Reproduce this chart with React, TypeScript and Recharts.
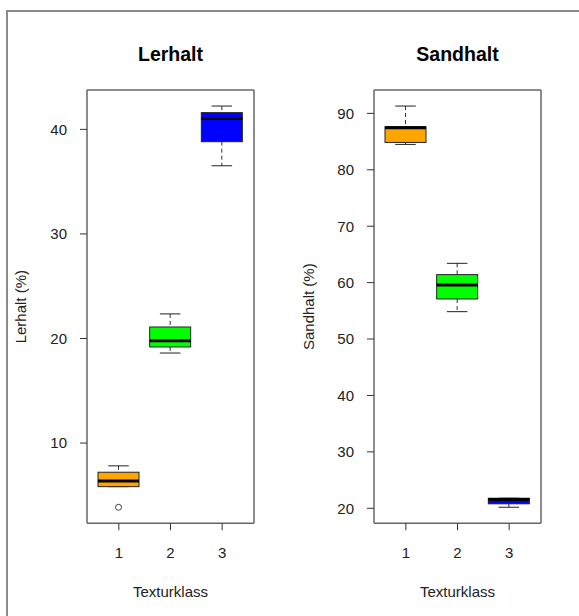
import { ComposedChart, Bar, Cell, XAxis, YAxis } from 'recharts';

// Texturklass categories
const categories = ['1', '2', '3'];

// Lerhalt (%) box statistics per class
const lerWhiskerLow = [5.83, 18.61, 36.52];
const lerQ1 = [5.83, 19.19, 38.82];
const lerMedian = [6.38, 19.79, 41.05];
const lerQ3 = [7.21, 21.1, 41.6];
const lerWhiskerHigh = [7.82, 22.35, 42.23];
const lerOutliers = [[3.86], [], []];

// Sandhalt (%) box statistics per class
const sandWhiskerLow = [84.5, 54.85, 20.18];
const sandQ1 = [84.85, 57.1, 20.79];
const sandMedian = [87.46, 59.59, 21.55];
const sandQ3 = [87.64, 61.42, 21.78];
const sandWhiskerHigh = [91.3, 63.42, 21.78];
const sandOutliers = [[], [], []];

const lerTicks = [10, 20, 30, 40];
const sandTicks = [20, 30, 40, 50, 60, 70, 80, 90];

const boxColors = ['#FFA500', '#00FF00', '#0000FF'];
const FONT = '"Liberation Sans", Arial, sans-serif';
const FRAME = { stroke: '#666', strokeWidth: 1.5 };

function buildRows(low: number[], q1: number[], med: number[], q3: number[], high: number[], out: number[][]) {
  return categories.map((k, i) => ({
    k,
    wLow: low[i],
    q1: q1[i],
    med: med[i],
    q3: q3[i],
    wHigh: high[i],
    out: out[i],
    lo: Math.min(low[i], ...out[i]),
    hi: Math.max(high[i], ...out[i]),
  }));
}

// R style: data range stretched by 4%
function paddedDomain(rows: { lo: number; hi: number }[]): [number, number] {
  const lo = Math.min(...rows.map((r) => r.lo));
  const hi = Math.max(...rows.map((r) => r.hi));
  const pad = (hi - lo) * 0.04;
  return [lo - pad, hi + pad];
}

function BoxShape(props: any) {
  const { x, y, width, height, payload, fill } = props;
  const top = Math.min(y, y + height);
  const h = Math.abs(height);
  const k = h / (payload.hi - payload.lo);
  const py = (v: number) => top + (payload.hi - v) * k;
  const cx = x + width / 2;
  const cap = width / 4;
  return (
    <g>
      <line x1={cx} x2={cx} y1={py(payload.wHigh)} y2={py(payload.q3)} stroke="#333" strokeDasharray="4 3" />
      <line x1={cx} x2={cx} y1={py(payload.q1)} y2={py(payload.wLow)} stroke="#333" strokeDasharray="4 3" />
      <line x1={cx - cap} x2={cx + cap} y1={py(payload.wHigh)} y2={py(payload.wHigh)} stroke="#222" />
      <line x1={cx - cap} x2={cx + cap} y1={py(payload.wLow)} y2={py(payload.wLow)} stroke="#222" />
      <rect x={x} y={py(payload.q3)} width={width} height={py(payload.q1) - py(payload.q3)} fill={fill} stroke="#222" />
      <line x1={x} x2={x + width} y1={py(payload.med)} y2={py(payload.med)} stroke="#000" strokeWidth={3} />
      {payload.out.map((v: number, i: number) => (
        <circle key={i} cx={cx} cy={py(v)} r={3} fill="none" stroke="#444" />
      ))}
    </g>
  );
}

function MainTitle({ viewBox, value }: any) {
  return (
    <text x={viewBox.x + viewBox.width / 2} y={viewBox.y - 28.5} textAnchor="middle"
      fontSize={19.5} fontWeight="bold" fill="#000" fontFamily={FONT}>
      {value}
    </text>
  );
}

function XTitle({ viewBox, value }: any) {
  return (
    <text x={viewBox.x + viewBox.width / 2} y={viewBox.y + 73.5} textAnchor="middle"
      fontSize={15} fill="#222" fontFamily={FONT}>
      {value}
    </text>
  );
}

function YTitle({ viewBox, value, shift }: any) {
  const tx = viewBox.x + shift;
  const ty = viewBox.y + viewBox.height / 2;
  return (
    <text x={tx} y={ty} transform={`rotate(-90, ${tx}, ${ty})`} textAnchor="middle"
      fontSize={15} fill="#222" fontFamily={FONT}>
      {value}
    </text>
  );
}

function Panel({ rows, ticks, title, yTitle, width, yAxisWidth, rightMargin, titleShift }: any) {
  const domain = paddedDomain(rows);
  const tickStyle = { fill: '#222', fontSize: 15, fontFamily: FONT };
  return (
    <ComposedChart width={width} height={616} data={rows} margin={{ top: 89, right: rightMargin, bottom: 0, left: 0 }}>
      <XAxis dataKey="k" type="category" padding={{ left: 6, right: 6 }} interval={0}
        height={92.7} tickSize={7} tickMargin={17} tick={tickStyle}
        axisLine={FRAME} tickLine={{ stroke: '#333' }}
        label={<XTitle value="Texturklass" />} />
      <XAxis xAxisId="top" dataKey="k" type="category" orientation="top" height={1}
        tick={false} tickLine={false} axisLine={FRAME} label={<MainTitle value={title} />} />
      <YAxis type="number" domain={domain} allowDataOverflow ticks={ticks} width={yAxisWidth}
        tickSize={7} tickMargin={13} tick={tickStyle} axisLine={FRAME} tickLine={{ stroke: '#333' }}
        label={<YTitle value={yTitle} shift={titleShift} />} />
      <YAxis yAxisId="right" orientation="right" type="number" domain={domain} allowDataOverflow
        width={1} tick={false} tickLine={false} axisLine={FRAME} />
      <Bar dataKey={(d: any) => [d.lo, d.hi]} barSize={41} isAnimationActive={false}
        shape={(p: any) => <BoxShape {...p} />}>
        {rows.map((r: any, i: number) => (
          <Cell key={r.k} fill={boxColors[i]} />
        ))}
      </Bar>
    </ComposedChart>
  );
}

export default function App() {
  const lerRows = buildRows(lerWhiskerLow, lerQ1, lerMedian, lerQ3, lerWhiskerHigh, lerOutliers);
  const sandRows = buildRows(sandWhiskerLow, sandQ1, sandMedian, sandQ3, sandWhiskerHigh, sandOutliers);
  return (
    <div style={{ position: 'absolute', left: 0, top: 0, width: 579, height: 616, overflow: 'hidden', background: '#fff' }}>
      <div style={{ position: 'absolute', left: 6, top: 10, width: 600, height: 640, borderLeft: '2px solid #8a8a8a', borderTop: '2px solid #8a8a8a' }} />
      <div style={{ position: 'absolute', left: 0, top: 0 }}>
        <Panel rows={lerRows} ticks={lerTicks} title="Lerhalt" yTitle="Lerhalt (%)"
          width={290} yAxisWidth={87} rightMargin={35} titleShift={26} />
      </div>
      <div style={{ position: 'absolute', left: 290, top: 0 }}>
        <Panel rows={sandRows} ticks={sandTicks} title="Sandhalt" yTitle="Sandhalt (%)"
          width={289} yAxisWidth={84} rightMargin={37} titleShift={24} />
      </div>
    </div>
  );
}
